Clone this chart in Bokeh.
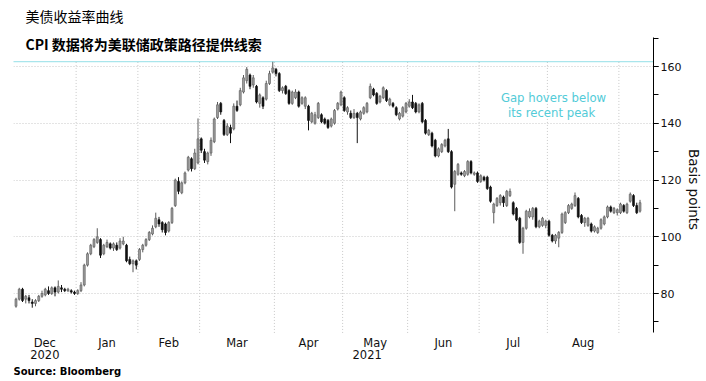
import numpy as np
from bokeh.plotting import figure
from bokeh.models import (ColumnDataSource, Range1d, FixedTicker, SingleIntervalTicker,
                          Span, Label)
from bokeh.embed import file_html
from bokeh.resources import INLINE

# ---------------- data (basis points, daily candles, Dec 2020 - Sep 2021) ----------------
month_names = ["Dec", "Jan", "Feb", "Mar", "Apr", "May", "Jun", "Jul", "Aug", ""]
year_names = ["2020", "", "", "", "", "2021", "", "", "", ""]
month_days = [19, 19, 19, 23, 21, 20, 22, 21, 22, 7]

open_bp = [
    75.5, 78, 81.5, 78, 78.5, 77, 76.5, 77.5, 79, 79.5, 81, 80, 82, 80.5, 82, 81.5, 81, 81, 80.5,
    80, 81, 83, 90, 94, 96.5, 98, 99, 94, 96.5, 97.5, 96, 97, 96, 97.5, 97, 92, 90.5, 91.5,
    92, 95.5, 97, 99, 101, 103.5, 106, 105, 104.5, 102, 105, 111, 119.5, 115.5, 119, 123.5, 127.5, 124, 126,
    134.5, 130, 126.5, 129.5, 133.5, 142, 147, 141, 136, 138.5, 138, 146, 146.5, 151, 155, 157, 153.5, 153, 147, 149, 148.5, 154, 158,
    159, 157.5, 151.5, 153, 151.5, 147, 149, 151, 147, 146, 146, 140.5, 140, 142, 143, 141.5, 141, 139, 140, 145, 146.5,
    149, 144, 143.5, 142, 143.5, 141.5, 143.5, 144, 149, 152, 150.5, 147.5, 149, 151.5, 146.5, 147, 145.5, 141.5, 142.5, 144,
    146, 147.5, 147, 144, 147, 141, 136, 136.5, 134, 128.5, 130, 132, 134.5, 130, 118.5, 122, 122.5, 121.5, 122, 126.5, 122, 122.5,
    119.5, 121, 121, 117.5, 108.5, 111, 112, 114, 111, 114.5, 112, 110, 106.5, 98, 103, 107, 107, 110, 103.5, 104, 104,
    105.5, 100.5, 98.5, 99.5, 101.5, 105, 108.5, 110, 111, 113.5, 107.5, 105, 104, 104.5, 102, 101.5, 103, 104.5, 107, 110.5, 108.5, 108.5,
    108.5, 111, 108.5, 112.5, 114.5, 111, 109,
]
high_bp = [
    78.5, 82, 82, 79.5, 79.5, 78, 78, 79.5, 81, 82, 82.5, 82.5, 82.5, 84.6, 83, 82, 82, 81.5, 81,
    81.5, 84, 90.5, 94.5, 97.5, 99.5, 103, 99.5, 97.5, 99, 98, 98, 98, 99.5, 100, 97.5, 93, 92, 92,
    96, 97.5, 99.5, 102, 104, 108.5, 107, 105.5, 105, 105.5, 110.5, 120.5, 121, 119.5, 123, 128.5, 128, 131, 141.7,
    135, 131, 130, 135, 142, 147.5, 147.5, 141.5, 140, 139.5, 147, 148, 152.5, 157, 159.8, 157.5, 157, 153.5, 150.5, 149.5, 155, 158.5, 161.7,
    159.5, 158, 153, 153.5, 152, 151.5, 152, 151.5, 149.5, 149.5, 146.5, 144, 144, 147.5, 143.5, 142, 141.5, 142, 145, 147.5, 151.5,
    149.5, 146, 144.5, 145, 144, 144.5, 146, 147.5, 154, 152.5, 151, 150, 153, 152, 149, 147.5, 146, 144, 146, 147.5,
    148.5, 150, 147.5, 147, 147.5, 141.5, 138, 137, 134.5, 131.5, 133, 134.5, 138, 130.5, 123.5, 126, 123, 123.5, 127, 127, 123, 123,
    122, 121.5, 121.5, 118, 112, 114, 115, 114.5, 116.5, 117, 112.5, 110.5, 107, 103.5, 109.5, 110, 110.5, 110.5, 106, 107, 106,
    106, 101, 101, 102, 108.5, 109, 111.5, 112, 115.6, 114, 108, 107, 107, 105, 104, 103.5, 106.5, 107.5, 111, 111, 110.5, 110,
    112, 111.5, 112, 115.6, 115, 112, 113,
]
low_bp = [
    75, 77.5, 77, 76.5, 76.5, 75, 75.5, 77, 78.5, 79, 79.5, 79.5, 79, 80, 80.5, 80.5, 80.5, 80, 79.5,
    79.5, 80.5, 82.5, 89.5, 93.5, 96, 97.5, 92.5, 93.5, 96, 95.5, 95, 95, 95.5, 97, 91, 90, 87.5, 88.5,
    91.5, 94.5, 96.5, 98.5, 100.5, 103, 103.5, 101.5, 100.5, 101.5, 104.5, 110.5, 115, 115, 118.5, 123, 123, 123.5, 125.5,
    129.5, 126, 125.5, 128.5, 133, 141.5, 143, 135.5, 135.5, 133, 137.5, 144, 146, 150.5, 154, 152, 152.5, 147, 145.5, 145, 148, 153.5, 157.5,
    156.5, 151, 150.5, 150, 146.5, 146.5, 148.5, 145.5, 146.5, 145, 137.5, 140, 139.5, 141.5, 140, 139.5, 138, 138.5, 139.5, 144.5, 146,
    144, 143, 141.5, 141.5, 133, 141, 143, 143.5, 148.5, 149.5, 146.5, 147, 148.5, 147.5, 146, 145.5, 142.5, 141, 142, 143.5,
    145.5, 145, 143.5, 143.5, 140, 136, 135.5, 131.5, 128, 128, 129.5, 131.5, 129.5, 117, 109, 121.5, 121.5, 121, 121.5, 122, 121.5, 119,
    119, 119.5, 116.5, 112, 104.7, 110.5, 111, 110.5, 110.5, 114, 107.5, 105.5, 97.5, 94, 102.5, 106.5, 106, 103, 103, 103.5, 103,
    100, 98, 97.5, 96.3, 101, 104.5, 108, 109.5, 110.5, 106.5, 104.5, 103.5, 103.5, 101.5, 101.5, 101, 102.5, 104, 106.5, 108.5, 108, 107.5,
    108, 108.5, 108, 112, 110.5, 108, 108.5,
]
close_bp = [
    78, 81.5, 77.5, 79, 77.5, 76.5, 77.5, 79, 80, 81.5, 80, 82, 80.5, 82.5, 81.5, 81, 81.5, 80.5, 80,
    81, 83, 90, 94, 97, 99, 100, 93.5, 97, 98, 96, 97.5, 95.5, 98.5, 98.5, 91.5, 90.5, 91.5, 90,
    95.5, 97, 99, 101.5, 103, 106.5, 104.5, 102.5, 101.5, 105, 110, 120, 116, 119, 122.5, 128, 124, 129.5, 134.5,
    130.5, 127, 129.5, 134, 141.5, 146.5, 144, 136, 139, 136.5, 146, 144.5, 151.5, 156, 159, 153, 156, 147.5, 150, 146, 154, 157.5, 159.5,
    157.5, 151.5, 152.5, 150.5, 147, 151, 151, 146, 149, 149, 141, 143.5, 143, 147, 140.5, 140, 138.5, 141.5, 144.5, 147, 151,
    144.5, 145.5, 142, 143.5, 142, 144, 145.5, 147, 153, 150, 147, 149.5, 152.5, 148, 148.5, 146, 143, 143.5, 145.5, 147,
    147.5, 145.5, 144, 146.5, 140.5, 136.5, 137.5, 132, 128.5, 131, 132.5, 134, 130, 117.5, 123, 125.5, 122, 123, 126.5, 122.5, 122.5, 119.5,
    121.5, 120, 117, 112.5, 111.5, 113.5, 114.5, 112, 116, 116, 108, 106, 98, 103, 109, 109, 110, 103.5, 105.5, 106.5, 105.5,
    100.5, 98.5, 100.5, 101.5, 108, 108.5, 111, 111.5, 114.5, 107, 105, 106.5, 106.5, 102, 103.5, 103, 106, 107, 110.5, 109, 110, 109.5,
    111.5, 109, 111.5, 115, 111, 108.5, 112,
]
y_ticks = [80, 100, 120, 140, 160]
axis_lo, axis_hi = 66.1, 170.2

title_1 = "美债收益率曲线"
title_2 = "CPI 数据将为美联储政策路径提供线索"
note = "Gap hovers below\n its recent peak"
source = "Source:  Bloomberg"
y_title = "Basis points"

# ---------------- layout (page pixel coordinates) ----------------
LEFT = 13          # frame left edge
FW = 640           # frame width
FH = 378           # frame height (frame covers whole canvas height)
PX_PER_DAY = 3.25
FIRST_X = 15.5     # page x of first candle
PX_PER_BP = 2.8375
Y160 = 66.0        # page y of the 160 level

X0 = -(FIRST_X - LEFT) / PX_PER_DAY
X1 = X0 + FW / PX_PER_DAY
Y1 = 160 + Y160 / PX_PER_BP
Y0 = Y1 - FH / PX_PER_BP

CYAN = "#52cbd8"
GRID = "#c9c9c9"
FONT = "DejaVu Sans"
CJK = "Noto Sans CJK SC"


def dx(page_x):
    return X0 + (page_x - LEFT) / PX_PER_DAY


def dy(page_y):
    return Y1 - page_y / PX_PER_BP


o = np.array(open_bp, float)
h = np.array(high_bp, float)
l = np.array(low_bp, float)
c = np.array(close_bp, float)
x = np.arange(len(c))
up = c >= o

src = ColumnDataSource(dict(
    x=x, high=h, low=l,
    top=np.maximum(o, c), bottom=np.minimum(o, c),
    fill=np.where(up, "#9b9b9b", "#111111"),
    line=np.where(up, "#5a5a5a", "#111111"),
))

cum = np.cumsum(month_days)
bounds = list(cum[:-1] - 0.5)
edges = [X0] + bounds
label_pos = [(edges[i] + edges[i + 1]) / 2 for i in range(len(bounds))]
peak = float(h.max())

p = figure(frame_width=FW, frame_height=FH, x_range=Range1d(X0, X1), y_range=Range1d(Y0, Y1),
           output_backend="svg", toolbar_location=None, y_axis_location="right",
           x_axis_location=None,
           min_border_left=LEFT, min_border_top=0, min_border_bottom=0, min_border_right=46)
p.outline_line_color = None
p.background_fill_color = "white"

# grids
p.xgrid.visible = False
p.ygrid.ticker = FixedTicker(ticks=y_ticks)
p.ygrid.grid_line_color = GRID
p.ygrid.grid_line_dash = "1 2"
p.segment(x0=bounds, y0=axis_lo, x1=bounds, y1=peak, line_color=GRID, line_dash="1 2", line_width=1)

# peak line
p.add_layout(Span(location=peak, dimension="width", line_color=CYAN, line_dash="1 1", line_width=1.3))

# candles
p.segment(x0="x", y0="low", x1="x", y1="high", line_color="line", line_width=1, source=src)
p.vbar(x="x", width=0.62, top="top", bottom="bottom", fill_color="fill", line_color="line",
       line_width=0.6, source=src)

# y axis (right)
ya = p.yaxis[0]
ya.bounds = (axis_lo, axis_hi)
ya.ticker = SingleIntervalTicker(interval=20, num_minor_ticks=2)
ya.axis_line_color = "black"
ya.major_tick_in = 0
ya.major_tick_out = 5
ya.minor_tick_in = 0
ya.minor_tick_out = 5
ya.major_tick_line_color = "black"
ya.minor_tick_line_color = "black"
ya.major_label_text_font = FONT
ya.major_label_text_font_size = "11px"
ya.major_label_text_color = "#111111"
ya.major_label_standoff = 2
ya.axis_label = y_title
ya.axis_label_text_font = FONT
ya.axis_label_text_font_size = "13.5px"
ya.axis_label_text_font_style = "normal"
ya.axis_label_text_color = "#111111"
ya.axis_label_standoff = 2

# month / year labels
for i, pos in enumerate(label_pos):
    if month_names[i]:
        p.add_layout(Label(x=pos, y=dy(335), text=month_names[i], text_font=FONT,
                           text_font_size="11.5px", text_align="center", text_baseline="top",
                           text_color="#111111"))
    if year_names[i]:
        p.add_layout(Label(x=pos, y=dy(349), text=year_names[i], text_font=FONT,
                           text_font_size="11.5px", text_align="center", text_baseline="top",
                           text_color="#111111", x_offset=(-8 if i > 0 else 0)))

# texts
p.add_layout(Label(x=dx(25), y=dy(5.5), text=title_1, text_font=CJK, text_font_size="14px",
                   text_baseline="top", text_color="black"))
p.add_layout(Label(x=dx(25), y=dy(33.5), text=title_2, text_font=CJK, text_font_size="14px",
                   text_font_style="bold", text_baseline="top", text_color="black"))
p.add_layout(Label(x=dx(553), y=dy(105), text=note, text_font=FONT, text_font_size="11.7px",
                   text_align="center", text_baseline="middle", text_color=CYAN,
                   text_line_height=1.1))
p.add_layout(Label(x=dx(13), y=dy(365), text=source, text_font=FONT, text_font_size="10px",
                   text_font_style="bold", text_baseline="top", text_color="black"))

open("out.html", "w").write(file_html(p, INLINE))
